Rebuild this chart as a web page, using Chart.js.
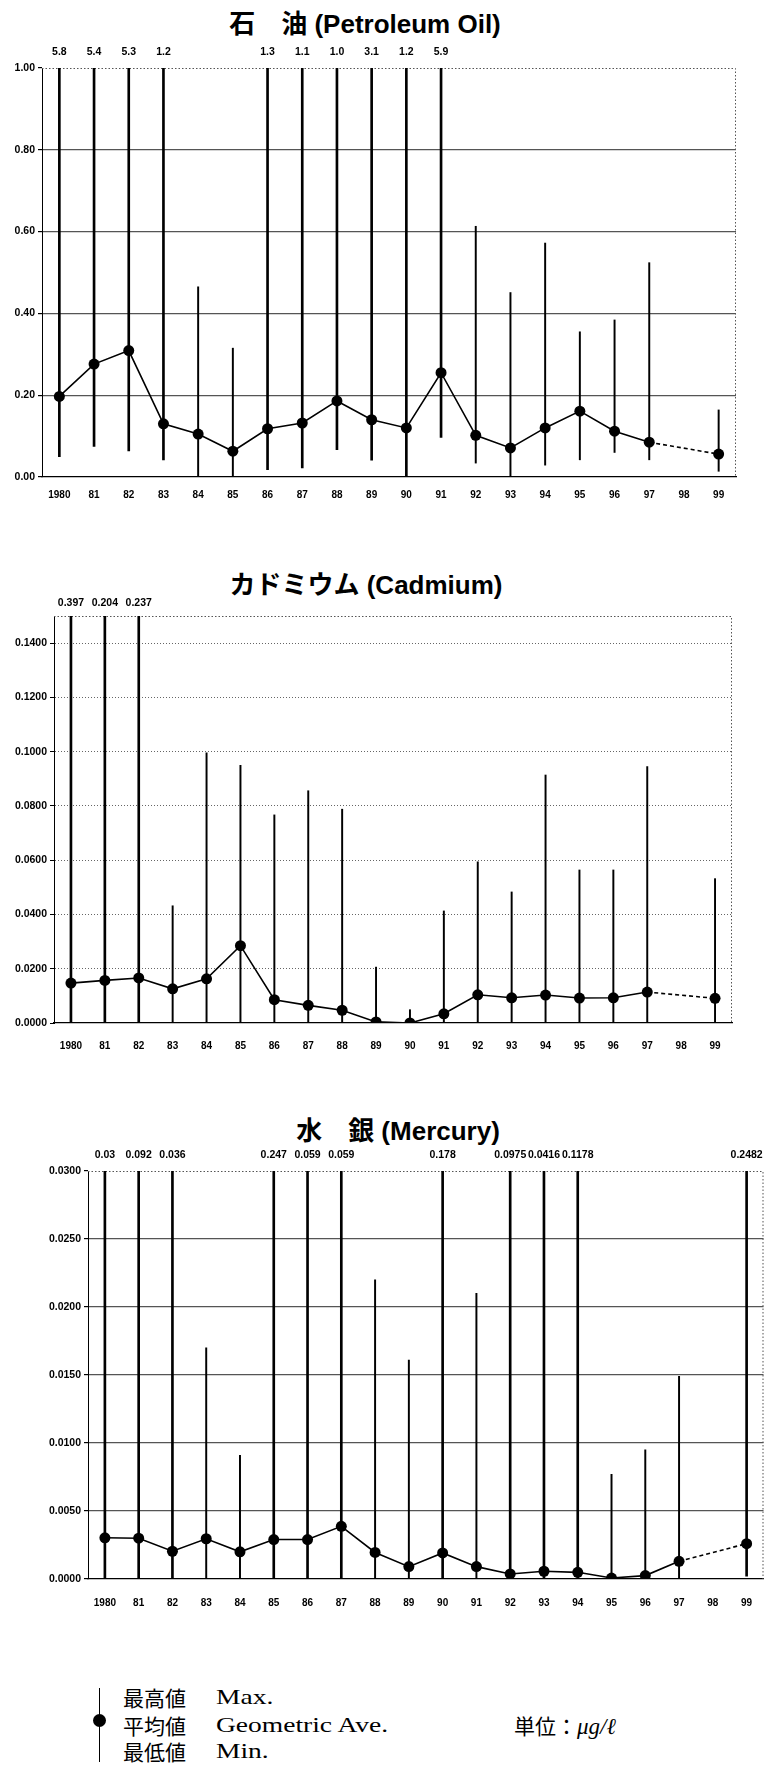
<!DOCTYPE html>
<html><head><meta charset="utf-8">
<script src="https://cdn.jsdelivr.net/npm/chart.js@4/dist/chart.umd.min.js"></script>
<style>
html,body{margin:0;padding:0;background:#fff;}
#page{position:relative;width:769px;height:1765px;overflow:hidden;background:#fff;}
canvas{position:absolute;left:0;}
.title{position:absolute;width:500px;text-align:center;font-weight:bold;font-size:26px;font-family:"Liberation Sans","Noto Sans CJK JP",sans-serif;line-height:30px;color:#000;white-space:nowrap;}
.lg{position:absolute;white-space:nowrap;line-height:26px;color:#000;}
.cjk{font-family:"Noto Sans CJK JP",sans-serif;font-size:21px;}
.lat{font-family:"Liberation Serif",serif;font-size:22px;transform:scaleX(1.25);transform-origin:0 50%;}
</style></head>
<body><div id="page">
<div class="title" style="left:115px;top:9px">石　油 (Petroleum Oil)</div>
<canvas id="c1" width="769" height="470" style="top:40px;width:769px;height:470px"></canvas>
<div class="title" style="left:116px;top:570px">カドミウム (Cadmium)</div>
<canvas id="c2" width="769" height="470" style="top:590px;width:769px;height:470px"></canvas>
<div class="title" style="left:148px;top:1116px">水　銀 (Mercury)</div>
<canvas id="c3" width="769" height="470" style="top:1140px;width:769px;height:470px"></canvas>

<div style="position:absolute;left:99px;top:1688px;width:1px;height:74px;background:#000"></div>
<div style="position:absolute;left:93px;top:1714px;width:13px;height:13px;border-radius:50%;background:#000"></div>
<div class="lg cjk" style="left:123px;top:1684px">最高値</div>
<div class="lg lat" style="left:216px;top:1684px">Max.</div>
<div class="lg cjk" style="left:123px;top:1712px">平均値</div>
<div class="lg lat" style="left:216px;top:1712px">Geometric Ave.</div>
<div class="lg cjk" style="left:123px;top:1738px">最低値</div>
<div class="lg lat" style="left:216px;top:1738px">Min.</div>
<div class="lg" style="left:514px;top:1712px"><span class="cjk">単位：</span><span style="font-family:'Liberation Serif',serif;font-size:23px;font-style:italic">μg/ℓ</span></div>
</div>
<script>
const years = ['1980','81','82','83','84','85','86','87','88','89','90','91','92','93','94','95','96','97','98','99'];

// Petroleum Oil
const oilAve = [0.197,0.276,0.309,0.130,0.105,0.063,0.118,0.132,0.186,0.140,0.120,0.255,0.102,0.071,0.120,0.161,0.112,0.085,null,0.056];
const oilMax = [5.8,5.4,5.3,1.2,0.465,0.315,1.3,1.1,1.0,3.1,1.2,5.9,0.613,0.451,0.572,0.355,0.384,0.524,null,0.164];
const oilMin = [0.050,0.075,0.064,0.042,0,0,0.018,0.022,0.067,0.041,0,0.097,0.034,0,0.029,0.042,0.060,0.042,null,0.014];
const oilTopLabels = ['5.8','5.4','5.3','1.2',null,null,'1.3','1.1','1.0','3.1','1.2','5.9',null,null,null,null,null,null,null,null];
const oilTicks = [0,0.2,0.4,0.6,0.8,1.0];

// Cadmium
const cdAve = [0.0147,0.0157,0.0166,0.0126,0.0163,0.0285,0.0086,0.0065,0.0047,0.0004,0.0,0.0034,0.0104,0.0093,0.0103,0.0092,0.0093,0.0114,null,0.0091];
const cdMax = [0.397,0.204,0.237,0.0432,0.0996,0.095,0.0767,0.0856,0.0788,0.0206,0.0049,0.0413,0.0594,0.0483,0.0914,0.0564,0.0564,0.0945,null,0.0532];
const cdMin = [0,0,0,0,0,0,0,0,0,0,0,0,0,0,0,0,0,0,null,0];
const cdTopLabels = ['0.397','0.204','0.237',null,null,null,null,null,null,null,null,null,null,null,null,null,null,null,null,null];
const cdTicks = [0,0.02,0.04,0.06,0.08,0.10,0.12,0.14];

// Mercury
const hgAve = [0.00303,0.0030,0.00204,0.00296,0.0020,0.0029,0.0029,0.00387,0.00195,0.00091,0.00192,0.00091,0.00037,0.00057,0.00049,0.00007,0.00025,0.0013,null,0.0026];
const hgMax = [0.03,0.092,0.036,0.0170,0.0091,0.247,0.059,0.059,0.0220,0.0161,0.178,0.0210,0.0975,0.0416,0.1178,0.0077,0.0095,0.0149,null,0.2482];
const hgMin = [0,0,0,0,0,0,0,0,0,0,0,0,0,0,0,0,0,0,null,0.0002];
const hgTopLabels = ['0.03','0.092','0.036',null,null,'0.247','0.059','0.059',null,null,'0.178',null,'0.0975','0.0416','0.1178',null,null,null,null,'0.2482'];
const hgTicks = [0,0.005,0.010,0.015,0.020,0.025,0.030];

const FONT = 'Liberation Sans, Arial, sans-serif';

const framePlugin = {
  id: 'frame',
  beforeDatasetsDraw(chart, args, opts) {
    const {ctx, chartArea: a} = chart;
    ctx.save();
    ctx.strokeStyle = '#555';
    ctx.lineWidth = 1;
    ctx.setLineDash([1.5, 2]);
    ctx.beginPath();
    ctx.moveTo(a.left, a.top + 0.5);
    ctx.lineTo(a.right - 0.5, a.top + 0.5);
    ctx.lineTo(a.right - 0.5, a.bottom);
    ctx.stroke();
    ctx.restore();
  },
  afterDatasetsDraw(chart, args, opts) {
    const {ctx, chartArea: a} = chart;
    const xs = chart.scales.x;
    ctx.save();
    ctx.fillStyle = '#000';
    ctx.font = 'bold 10.5px ' + FONT;
    ctx.textAlign = 'center';
    ctx.textBaseline = 'middle';
    (opts.labels || []).forEach((t, i) => {
      if (t) ctx.fillText(t, xs.getPixelForValue(i), a.top - opts.offset);
    });
    ctx.restore();
  }
};

function makeChart(id, ave, max, min, topLabels, ticks, yMax, st) {
  const over = max.map((m, i) => (m == null ? null : (m >= yMax ? [min[i], m] : null)));
  const within = max.map((m, i) => (m == null ? null : (m < yMax ? [min[i], m] : null)));
  return new Chart(document.getElementById(id), {
    type: 'bar',
    data: {
      labels: years,
      datasets: [
        {type: 'line', data: ave, order: 0, borderColor: '#000', borderWidth: 1.6,
         pointRadius: 5.5, pointHoverRadius: 5.5, pointBackgroundColor: '#000', pointBorderColor: '#000', pointBorderWidth: 0,
         spanGaps: true, tension: 0,
         segment: {borderDash: c => (c.p0.skip || c.p1.skip) ? [4, 3] : undefined}},
        {data: over, order: 1, backgroundColor: '#000', barThickness: 2, grouped: false, clip: 0},
        {data: within, order: 1, backgroundColor: '#000', barThickness: 1.3, grouped: false, clip: 0}
      ]
    },
    options: {
      responsive: false, animation: false, events: [],
      layout: {padding: {left: 0, top: st.top, right: st.right, bottom: 0}},
      plugins: {legend: {display: false}, tooltip: {enabled: false}, frame: {labels: topLabels, offset: st.labelOffset}},
      scales: {
        x: {
          offset: true,
          grid: {display: false},
          border: {display: true, color: '#000', width: 1.2},
          ticks: {padding: st.xPad, color: '#000', font: {family: FONT, size: 10, weight: 'bold'}, maxRotation: 0, autoSkip: false},
          afterFit: s => { s.height = st.xHeight; }
        },
        y: {
          min: 0, max: yMax,
          afterBuildTicks: s => { s.ticks = ticks.map(v => ({value: v})); },
          ticks: {callback: v => Number(v).toFixed(st.digits), padding: 3, color: '#000', font: {family: FONT, size: 10.5, weight: 'bold'}},
          grid: {
            color: c => (c.tick && (c.tick.value === 0 || c.tick.value >= yMax - 1e-12)) ? 'rgba(0,0,0,0)' : st.gridColor,
            lineWidth: st.gridW, tickColor: '#000', tickLength: 4, drawTicks: true
          },
          border: {display: true, color: '#000', width: 1, dash: st.dash},
          afterFit: s => { s.width = st.yWidth; }
        }
      }
    },
    plugins: [framePlugin]
  });
}

makeChart('c1', oilAve, oilMax, oilMin, oilTopLabels, oilTicks, 1.0,
  {top: 28, right: 33, yWidth: 42, xHeight: 33, xPad: 4, digits: 2, gridColor: '#555', gridW: 1.2, dash: [], labelOffset: 16});
makeChart('c2', cdAve, cdMax, cdMin, cdTopLabels, cdTicks, 0.15,
  {top: 26, right: 37, yWidth: 54, xHeight: 37, xPad: 9, digits: 4, gridColor: '#666', gridW: 1, dash: [1, 2], labelOffset: 13});
makeChart('c3', hgAve, hgMax, hgMin, hgTopLabels, hgTicks, 0.03,
  {top: 31, right: 3, yWidth: 88, xHeight: 31, xPad: 10, digits: 4, gridColor: '#555', gridW: 1.2, dash: [], labelOffset: 16});
</script>
</body></html>
